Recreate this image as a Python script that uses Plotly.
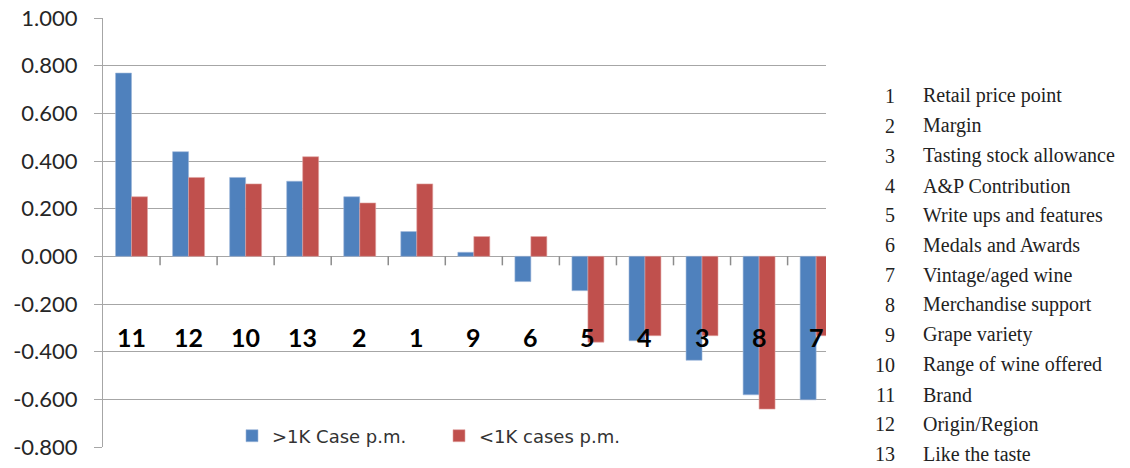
import plotly.graph_objects as go

categories = ["11", "12", "10", "13", "2", "1", "9", "6", "5", "4", "3", "8", "7"]
over_1k = [0.769, 0.439, 0.331, 0.315, 0.250, 0.104, 0.017, -0.106, -0.144, -0.354, -0.436, -0.581, -0.602]
under_1k = [0.250, 0.331, 0.304, 0.418, 0.224, 0.304, 0.083, 0.083, -0.360, -0.333, -0.333, -0.641, -0.333]
series_names = [">1K Case p.m.", "<1K cases p.m."]
y_ticks = [1.0, 0.8, 0.6, 0.4, 0.2, 0.0, -0.2, -0.4, -0.6, -0.8]
key_numbers = ["1", "2", "3", "4", "5", "6", "7", "8", "9", "10", "11", "12", "13"]
key_labels = ["Retail price point", "Margin", "Tasting stock allowance", "A&P Contribution",
              "Write ups and features", "Medals and Awards", "Vintage/aged wine",
              "Merchandise support", "Grape variety", "Range of wine offered", "Brand",
              "Origin/Region", "Like the taste"]

W, H = 1130, 468
L, R, T, B = 103, 826, 18, 447

fig = go.Figure()
fig.add_trace(go.Bar(x=categories, y=over_1k, name=series_names[0],
                     marker=dict(color="#4F81BD", line=dict(color="#9DB7DA", width=0.6))))
fig.add_trace(go.Bar(x=categories, y=under_1k, name=series_names[1],
                     marker=dict(color="#C0504D", line=dict(color="#E0A5A3", width=0.6))))

# category labels inside plot (positioned by category index on the x scale)
for i, c in enumerate(categories):
    fig.add_annotation(x=i, y=-0.337, xref="x", yref="y", text="<b>%s</b>" % c,
                       showarrow=False, font=dict(family="Lato", size=25, color="#000000"))

# right-hand key
x_num = (897 - L) / (R - L)
x_txt = (921 - L) / (R - L)
y0_px, dy_px = 96, 29.85
for i, (n, lab) in enumerate(zip(key_numbers, key_labels)):
    ypx = y0_px + i * dy_px
    yp = (B - ypx) / (B - T)
    fig.add_annotation(x=x_num, y=yp, xref="paper", yref="paper", text=n, showarrow=False,
                       xanchor="right", yanchor="middle",
                       font=dict(family="Liberation Serif", size=20, color="#222222"))
    fig.add_annotation(x=x_txt, y=yp, xref="paper", yref="paper", text=lab, showarrow=False,
                       xanchor="left", yanchor="middle",
                       font=dict(family="Liberation Serif", size=20, color="#222222"))

# tick marks on the zero line between categories (category boundaries)
tick_len = 9 / (B - T) * 1.8  # ~9 px expressed in y data units
boundaries = [i + 0.5 for i in range(len(categories) - 1)]
for b in boundaries:
    fig.add_shape(type="line", xref="x", yref="y", x0=b, x1=b, y0=0, y1=-tick_len,
                  line=dict(color="#8c8c8c", width=1.5), layer="above")

cat_w = 57.05
span = (R - L) / cat_w
fig.update_layout(
    width=W, height=H,
    margin=dict(l=L, r=W - R, t=T, b=H - B, pad=0, autoexpand=False),
    paper_bgcolor="white", plot_bgcolor="white",
    barmode="group", bargap=0.44, bargroupgap=0,
    showlegend=True,
    legend=dict(orientation="h", x=(232 - L) / (R - L), y=(B - 436) / (B - T), yanchor="middle",
                xanchor="left", font=dict(family="DejaVu Sans", size=18, color="#333333"),
                bgcolor="rgba(0,0,0,0)", entrywidth=162),
    xaxis=dict(type="category", range=[-0.5, -0.5 + span],
               showticklabels=False, ticks="",
               showgrid=False, zeroline=False, showline=False),
    yaxis=dict(range=[-0.8, 1.0], tickvals=y_ticks, ticktext=[f"{v:.3f}" for v in y_ticks],
               automargin=False,
               showgrid=True, gridcolor="#a6a6a6", gridwidth=1,
               zeroline=True, zerolinecolor="#a6a6a6", zerolinewidth=1,
               showline=True, linecolor="#a6a6a6", linewidth=1,
               ticks="outside", ticklen=8, tickcolor="#a6a6a6",
               ticklabelstandoff=12,
               tickfont=dict(family="Lato", size=22, color="#262626")),
)
fig.write_html("out.html", config={"displayModeBar": False},
               post_script="document.body.style.margin='0px';")
